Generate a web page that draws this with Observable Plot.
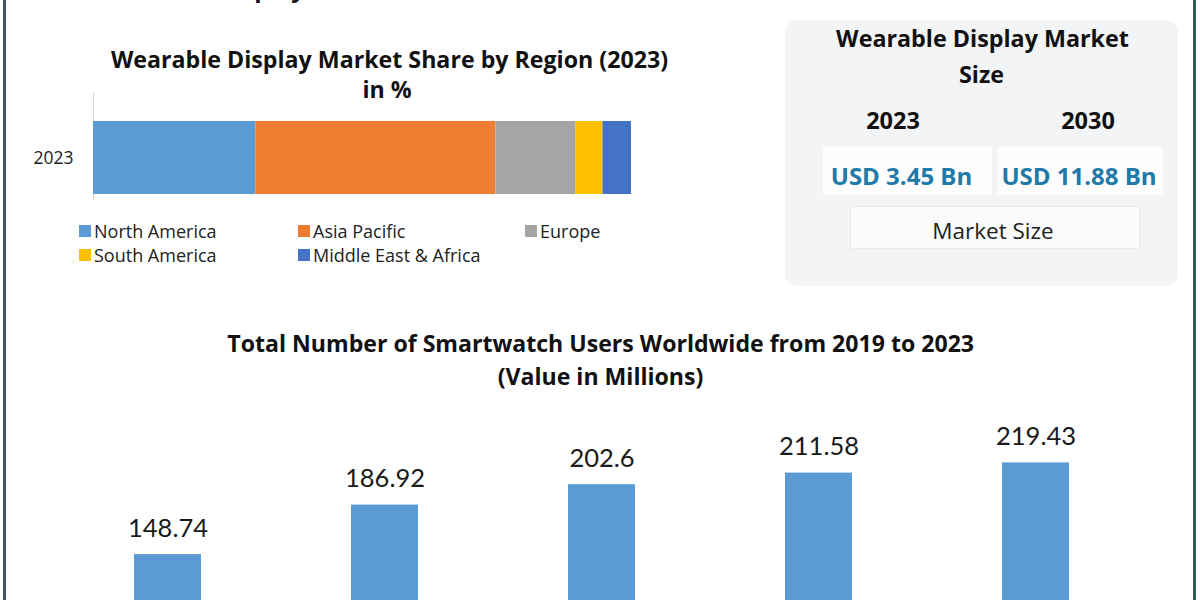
<!DOCTYPE html>
<html>
<head>
<meta charset="utf-8">
<script src="https://cdn.jsdelivr.net/npm/d3@7"></script>
<script src="https://cdn.jsdelivr.net/npm/@observablehq/plot@0.6"></script>
<style>
  html, body { margin: 0; padding: 0; background: #fff; }
  #page { position: relative; width: 1200px; height: 600px; overflow: hidden; background: #fff; font-family: "Open Sans", sans-serif; color: #111; }
  .t { position: absolute; white-space: nowrap; line-height: 1; transform: translate(-50%, -50%); }
  .abs { position: absolute; }
  .lg { position: absolute; white-space: nowrap; line-height: 1; transform: translateY(-50%); font-family: "Open Sans", sans-serif; font-size: 18px; color: #222; }
</style>
</head>
<body>
<div id="page"></div>
<script>
// ---------- data ----------
const shareYear = "2023";
const regions = ["North America", "Asia Pacific", "Europe", "South America", "Middle East & Africa"];
const regionShares = [30.2, 44.6, 14.9, 5.0, 5.3];
const regionColors = ["#5b9bd5", "#ed7d31", "#a5a5a5", "#ffc000", "#4472c4"];

const userYears = ["2019", "2020", "2021", "2022", "2023"];
const userValues = [148.74, 186.92, 202.6, 211.58, 219.43];
const userLabels = ["148.74", "186.92", "202.6", "211.58", "219.43"];

const sizeYears = ["2023", "2030"];
const sizeValues = ["USD 3.45 Bn", "USD 11.88 Bn"];

// ---------- helpers ----------
const page = document.getElementById("page");
function text(str, cx, cy, style) {
  const d = document.createElement("div");
  d.className = "t";
  d.textContent = str;
  d.style.left = cx + "px";
  d.style.top = cy + "px";
  Object.assign(d.style, style || {});
  page.appendChild(d);
  return d;
}
function box(x, y, w, h, style) {
  const d = document.createElement("div");
  d.className = "abs";
  Object.assign(d.style, { left: x + "px", top: y + "px", width: w + "px", height: h + "px" }, style || {});
  page.appendChild(d);
  return d;
}

// page frame lines
box(3, 0, 3, 600, { background: "#3e5563" });
box(1193, 0, 3, 600, { background: "#365a5a" });

// partially visible heading at very top (cut off by the top edge, as in the reference)
const head = document.createElement("div");
head.className = "abs";
head.textContent = "Wearable Display Market";
Object.assign(head.style, { left: "97px", top: "-24px", fontFamily: "Open Sans", fontWeight: "700", fontSize: "24px", lineHeight: "1", whiteSpace: "nowrap", color: "#111" });
page.appendChild(head);

// ---------- top chart: share by region ----------
const osb = { fontFamily: "Open Sans, sans-serif", fontWeight: "700", color: "#111" };
text("Wearable Display Market Share by Region (2023)", 389.5, 60, Object.assign({ fontSize: "23.2px" }, osb));
text("in %", 387, 90, Object.assign({ fontSize: "23.2px" }, osb));

const shareData = regions.map((r, i) => ({ year: shareYear, region: r, value: regionShares[i] }));
const shareChart = Plot.plot({
  width: 700,
  height: 110,
  marginTop: 29,
  marginBottom: 8,
  marginLeft: 93,
  marginRight: 69,
  x: { domain: [0, 100], axis: null },
  y: { domain: [shareYear], padding: 0, label: null },
  color: { domain: regions, range: regionColors },
  style: { fontFamily: "Open Sans, sans-serif", fontSize: "17.5px", color: "#222", background: "transparent" },
  marks: [
    Plot.ruleX([0], { stroke: "#d9d9d9", insetTop: -29, insetBottom: -6 }),
    Plot.barX(shareData, Plot.stackX({ x: "value", y: "year", fill: "region", order: regions })),
    Plot.axisY({ tickSize: 0, tickPadding: 20, label: null, fontSize: 17.5 })
  ]
});
const sc = document.createElement("div");
sc.className = "abs";
sc.style.left = "0px"; sc.style.top = "92px";
sc.appendChild(shareChart);
page.appendChild(sc);

// legend (two rows)
const legendPos = [[79, 231], [298, 231], [525, 231], [79, 254.5], [298, 254.5]];
regions.forEach((r, i) => {
  const [x, y] = legendPos[i];
  box(x, y - 6, 12, 12, { background: regionColors[i] });
  const l = document.createElement("div");
  l.className = "lg";
  l.textContent = r;
  l.style.left = (x + 15) + "px";
  l.style.top = y + "px";
  page.appendChild(l);
});

// ---------- right panel: market size ----------
box(785, 20, 393, 266, { background: "#f3f4f5", borderRadius: "12px" });
text("Wearable Display Market", 982.5, 38.7, Object.assign({ fontSize: "23.3px" }, osb));
text("Size", 981.5, 75, Object.assign({ fontSize: "23.3px" }, osb));
const yearX = [893, 1088];
const valBoxes = [[823, 147, 169, 48], [998, 147, 165, 48]];
const valX = [901.5, 1079];
sizeYears.forEach((y, i) => {
  text(y, yearX[i], 121, Object.assign({ fontSize: "23.5px" }, osb));
  const [bx, by, bw, bh] = valBoxes[i];
  box(bx, by, bw, bh, { background: "#fdfdfd" });
  text(sizeValues[i], valX[i], 176, Object.assign({}, osb, { fontSize: "24px", color: "#2079a6" }));
});
box(850, 206, 290, 43, { background: "#fbfbfb", border: "1px solid #ececec", boxSizing: "border-box" });
text("Market Size", 993, 231, { fontFamily: "Open Sans, sans-serif", fontSize: "22.5px", color: "#222" });

// ---------- bottom chart: smartwatch users ----------
text("Total Number of Smartwatch Users Worldwide from 2019 to 2023", 600.7, 343.5, Object.assign({ fontSize: "23.1px" }, osb));
text("(Value in Millions)", 600.5, 376.5, Object.assign({ fontSize: "23.1px" }, osb));

const userData = userYears.map((y, i) => ({ year: y, value: userValues[i], label: userLabels[i] }));
const userChart = Plot.plot({
  width: 1200,
  height: 367,
  marginTop: 32.75,
  marginBottom: 10,
  marginLeft: 57,
  marginRight: 54,
  x: { domain: userYears, paddingInner: 0.69, paddingOuter: 0.345, axis: null },
  y: { domain: [0, 250], axis: null },
  style: { fontFamily: "Lato, sans-serif", background: "transparent" },
  marks: [
    Plot.barY(userData, { x: "year", y: "value", fill: "#5b9bd5" }),
    Plot.text(userData, { x: "year", y: "value", text: "label", dy: -26, fontSize: 25.5, fill: "#1a1a1a", fontFamily: "Lato, sans-serif" })
  ]
});
const uc = document.createElement("div");
uc.className = "abs";
uc.style.left = "0px"; uc.style.top = "390px";
uc.appendChild(userChart);
page.appendChild(uc);
</script>
</body>
</html>
